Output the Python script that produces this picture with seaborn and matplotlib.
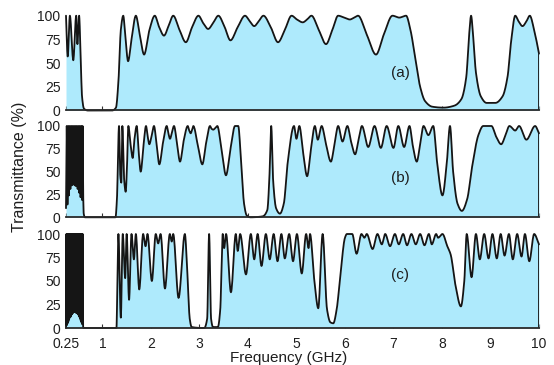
import matplotlib
matplotlib.use("Agg")
import matplotlib.pyplot as plt
import seaborn as sns
import numpy as np

# ---------------- data (frequency GHz, transmittance %) ----------------
points_a = [
    (0.25, 100), (0.285, 57), (0.33, 100), (0.40, 53), (0.46, 100), (0.485, 70),
    (0.52, 100), (0.55, 60), (0.58, 15), (0.62, 2), (0.70, 0), (1.20, 0),
    (1.28, 3), (1.33, 30), (1.38, 85), (1.43, 100), (1.47, 80), (1.53, 52),
    (1.60, 75), (1.69, 100), (1.77, 80), (1.86, 59), (1.97, 85), (2.08, 100),
    (2.17, 88), (2.27, 79), (2.37, 90), (2.46, 100), (2.59, 85), (2.72, 72),
    (2.85, 88), (2.98, 100), (3.08, 92), (3.18, 86), (3.29, 93), (3.39, 100),
    (3.52, 88), (3.64, 74), (3.79, 88), (3.94, 100), (4.04, 94), (4.13, 89),
    (4.22, 94), (4.32, 100), (4.47, 88), (4.62, 72), (4.76, 85), (4.90, 100),
    (5.01, 96), (5.13, 93), (5.22, 96), (5.31, 100), (5.46, 85), (5.61, 70),
    (5.74, 85), (5.86, 100), (5.98, 98), (6.10, 96), (6.19, 98), (6.27, 100),
    (6.45, 80), (6.64, 59), (6.80, 80), (6.98, 100), (7.12, 98), (7.26, 100),
    (7.35, 85), (7.45, 55), (7.55, 25), (7.65, 10), (7.80, 4), (8.03, 3),
    (8.25, 5), (8.40, 12), (8.50, 35), (8.56, 80), (8.60, 100), (8.64, 80),
    (8.70, 40), (8.80, 15), (8.92, 8), (9.10, 8), (9.25, 15), (9.35, 35),
    (9.43, 75), (9.51, 100), (9.58, 94), (9.66, 89), (9.74, 94), (9.81, 100),
    (9.90, 85), (10.0, 60),
]

points_b = [
    (0.250, 10), (0.265, 100), (0.280, 14), (0.295, 100), (0.310, 24), (0.325, 100),
    (0.340, 31), (0.355, 100), (0.370, 35), (0.385, 100), (0.400, 36), (0.415, 100),
    (0.430, 35), (0.445, 100), (0.460, 34), (0.475, 100), (0.490, 31), (0.505, 100),
    (0.520, 27), (0.535, 100), (0.550, 22), (0.565, 100), (0.580, 19), (0.592, 100),
    (0.604, 25), (0.615, 4), (0.640, 0), (1.27, 0), (1.30, 20), (1.343, 100),
    (1.37, 45), (1.39, 38), (1.411, 100), (1.45, 40), (1.48, 28), (1.51, 60),
    (1.535, 100), (1.58, 80), (1.625, 65), (1.66, 85), (1.707, 100), (1.75, 70),
    (1.79, 50), (1.85, 80), (1.899, 100), (1.935, 88), (1.968, 80), (2.01, 88),
    (2.064, 100), (2.12, 78), (2.174, 58), (2.25, 82), (2.326, 100), (2.36, 92),
    (2.394, 86), (2.43, 92), (2.476, 100), (2.54, 80), (2.60, 61), (2.68, 85),
    (2.759, 100), (2.79, 95), (2.82, 92), (2.85, 96), (2.874, 100), (2.97, 78),
    (3.06, 58), (3.14, 82), (3.218, 100), (3.25, 97), (3.286, 96), (3.33, 98),
    (3.369, 100), (3.46, 72), (3.548, 46), (3.64, 75), (3.734, 100), (3.80, 100),
    (3.86, 60), (3.92, 15), (3.975, 2), (4.05, 0), (4.30, 1), (4.40, 8),
    (4.44, 40), (4.48, 100), (4.52, 40), (4.58, 10), (4.66, 4), (4.74, 15),
    (4.82, 60), (4.95, 100), (5.00, 86), (5.06, 100), (5.14, 70), (5.22, 45),
    (5.30, 75), (5.38, 100), (5.44, 85), (5.52, 100), (5.61, 80), (5.71, 61),
    (5.79, 82), (5.86, 100), (5.95, 83), (6.05, 100), (6.13, 82), (6.21, 69),
    (6.28, 85), (6.35, 100), (6.48, 77), (6.61, 100), (6.74, 76), (6.86, 100),
    (7.00, 76), (7.10, 100), (7.22, 77), (7.33, 100), (7.40, 78), (7.48, 61),
    (7.55, 80), (7.62, 100), (7.72, 90), (7.82, 100), (7.90, 60), (8.01, 24),
    (8.10, 60), (8.165, 100), (8.23, 50), (8.32, 15), (8.41, 7), (8.52, 20),
    (8.62, 55), (8.75, 90), (8.85, 100), (9.02, 100), (9.12, 88), (9.22, 80),
    (9.31, 90), (9.39, 100), (9.51, 95), (9.59, 100), (9.74, 85), (9.92, 100),
    (10.0, 92),
]

points_c = [
    (0.250, 0), (0.258, 100), (0.266, 3), (0.274, 100), (0.282, 5), (0.290, 100),
    (0.298, 7), (0.306, 100), (0.314, 9), (0.322, 100), (0.330, 11), (0.338, 100),
    (0.346, 12), (0.354, 100), (0.362, 14), (0.370, 100), (0.378, 15), (0.386, 100),
    (0.394, 16), (0.402, 100), (0.410, 17), (0.418, 100), (0.426, 17), (0.434, 100),
    (0.442, 17), (0.450, 100), (0.458, 16), (0.466, 100), (0.474, 16), (0.482, 100),
    (0.490, 15), (0.498, 100), (0.506, 14), (0.514, 100), (0.522, 12), (0.530, 100),
    (0.538, 10), (0.546, 100), (0.554, 8), (0.562, 100), (0.570, 6), (0.578, 100),
    (0.586, 4), (0.594, 100), (0.602, 2), (0.610, 0), (1.29, 0), (1.31, 50),
    (1.33, 100), (1.38, 11), (1.42, 100), (1.47, 53), (1.50, 100), (1.55, 30),
    (1.60, 100), (1.65, 73), (1.69, 100), (1.76, 41), (1.84, 100), (1.89, 87),
    (1.93, 100), (2.02, 50), (2.10, 100), (2.15, 90), (2.20, 100), (2.29, 42),
    (2.39, 100), (2.43, 92), (2.46, 100), (2.57, 32), (2.70, 100), (2.75, 60),
    (2.80, 10), (2.84, 1), (3.10, 0), (3.16, 10), (3.20, 100), (3.24, 10),
    (3.28, 1), (3.38, 1), (3.43, 20), (3.46, 70), (3.48, 100), (3.51, 85),
    (3.55, 100), (3.65, 38), (3.75, 100), (3.79, 82), (3.84, 100), (3.96, 57),
    (4.06, 100), (4.13, 73), (4.20, 100), (4.28, 66), (4.37, 100), (4.45, 73),
    (4.53, 100), (4.61, 71), (4.69, 100), (4.76, 74), (4.85, 100), (4.93, 71),
    (5.01, 100), (5.11, 58), (5.20, 100), (5.25, 85), (5.28, 100), (5.37, 50),
    (5.45, 21), (5.54, 100), (5.63, 20), (5.70, 6), (5.76, 5), (5.83, 20),
    (5.90, 53), (6.00, 96), (6.04, 100), (6.15, 100), (6.24, 79), (6.34, 100),
    (6.40, 96), (6.45, 100), (6.57, 84), (6.67, 100), (6.76, 89), (6.83, 100),
    (6.93, 87), (7.03, 100), (7.11, 89), (7.20, 100), (7.28, 88), (7.37, 100),
    (7.46, 89), (7.55, 100), (7.64, 88), (7.73, 100), (7.79, 89), (7.88, 100),
    (7.92, 96), (8.01, 100), (8.11, 87), (8.18, 78), (8.28, 45), (8.39, 23),
    (8.46, 50), (8.51, 100), (8.61, 54), (8.70, 100), (8.78, 73), (8.87, 100),
    (8.96, 74), (9.04, 100), (9.13, 74), (9.21, 100), (9.29, 77), (9.38, 100),
    (9.46, 73), (9.55, 100), (9.64, 76), (9.71, 100), (9.80, 71), (9.90, 100),
    (10.0, 89),
]

panel_labels = ["(a)", "(b)", "(c)"]
label_pos = [(7.14, 40), (7.15, 43), (7.14, 56)]
x_ticks = [0.25, 1, 2, 3, 4, 5, 6, 7, 8, 9, 10]
x_tick_labels = ["0.25", "1", "2", "3", "4", "5", "6", "7", "8", "9", "10"]
y_ticks = [0, 25, 50, 75, 100]


def smooth_path(x, y, per_seg=14):
    """Monotone (PCHIP-style) rendering of the read points so the drawn
    curve has rounded crests/troughs like the original spectrum."""
    x = np.asarray(x, float)
    y = np.asarray(y, float)
    h = np.diff(x)
    d = np.diff(y) / h
    m = np.zeros_like(y)
    m[0], m[-1] = d[0], d[-1]
    for k in range(1, len(x) - 1):
        if d[k - 1] * d[k] > 0:
            w1 = 2 * h[k] + h[k - 1]
            w2 = h[k] + 2 * h[k - 1]
            m[k] = (w1 + w2) / (w1 / d[k - 1] + w2 / d[k])
    xs, ys = [], []
    for k in range(len(x) - 1):
        s = np.linspace(0, 1, per_seg, endpoint=False)
        h00 = 2 * s**3 - 3 * s**2 + 1
        h10 = s**3 - 2 * s**2 + s
        h01 = -2 * s**3 + 3 * s**2
        h11 = s**3 - s**2
        xs.append(x[k] + s * h[k])
        ys.append(h00 * y[k] + h10 * h[k] * m[k] + h01 * y[k + 1] + h11 * h[k] * m[k + 1])
    xs.append([x[-1]])
    ys.append([y[-1]])
    return np.concatenate(xs), np.clip(np.concatenate(ys), 0, 100)


# ---------------- style ----------------
sns.set_theme(style="white")
plt.rcParams["font.family"] = ["Liberation Sans", "DejaVu Sans"]

W, H = 554, 365
fig = plt.figure(figsize=(W / 100, H / 100), dpi=100)

panel_px = [(15.7, 110.5), (126.0, 217.3), (234.0, 328.0)]
left_px, right_px = 66.0, 539.0
fill_color = "#aeeafc"
line_color = "#151515"
text_color = "#1e1e1e"

for i, (pts, (top, bot)) in enumerate(zip([points_a, points_b, points_c], panel_px)):
    ax = fig.add_axes([left_px / W, 1 - bot / H, (right_px - left_px) / W, (bot - top) / H])
    f = [p[0] for p in pts]
    t = [p[1] for p in pts]
    fs, ts = smooth_path(f, t)
    ax.fill_between(fs, 0, ts, color=fill_color, lw=0, zorder=1)
    sns.lineplot(x=fs, y=ts, ax=ax, color=line_color, lw=1.3, estimator=None,
                 sort=False, zorder=3, clip_on=False)
    ax.vlines(f[-1], 0, t[-1], color=line_color, lw=1.3, zorder=3)
    ax.set_xlim(0.25, 10)
    ax.set_ylim(0, 100)
    ax.set_axisbelow(True)
    for s in ["top", "right", "left"]:
        ax.spines[s].set_visible(False)
    ax.spines["bottom"].set_color("#2a2a2a")
    ax.spines["bottom"].set_linewidth(1.3)
    ax.spines["bottom"].set_zorder(4)
    ax.set_xticks(x_ticks)
    ax.set_yticks(y_ticks)
    ax.set_yticklabels([str(v) for v in y_ticks])
    ax.tick_params(axis="x", direction="in", length=3, width=0.8, color="#333333",
                   bottom=True, labelsize=10, pad=6.5, labelcolor=text_color)
    ax.tick_params(axis="y", length=0, labelsize=10, pad=4, labelcolor=text_color)
    if i < 2:
        ax.set_xticklabels([])
    else:
        ax.set_xticklabels(x_tick_labels)
    ax.set_xlabel("")
    ax.set_ylabel("")
    ax.text(label_pos[i][0], label_pos[i][1], panel_labels[i], fontsize=11,
            ha="center", va="center", color=text_color, zorder=5)

fig.text(289 / W, 1 - 358 / H, "Frequency (GHz)", ha="center", va="center",
         fontsize=11, color=text_color)
fig.text(20 / W, 1 - 167 / H, "Transmittance (%)", ha="center", va="center",
         rotation=90, fontsize=11.5, color=text_color)

fig.savefig("out.png", dpi=100)
